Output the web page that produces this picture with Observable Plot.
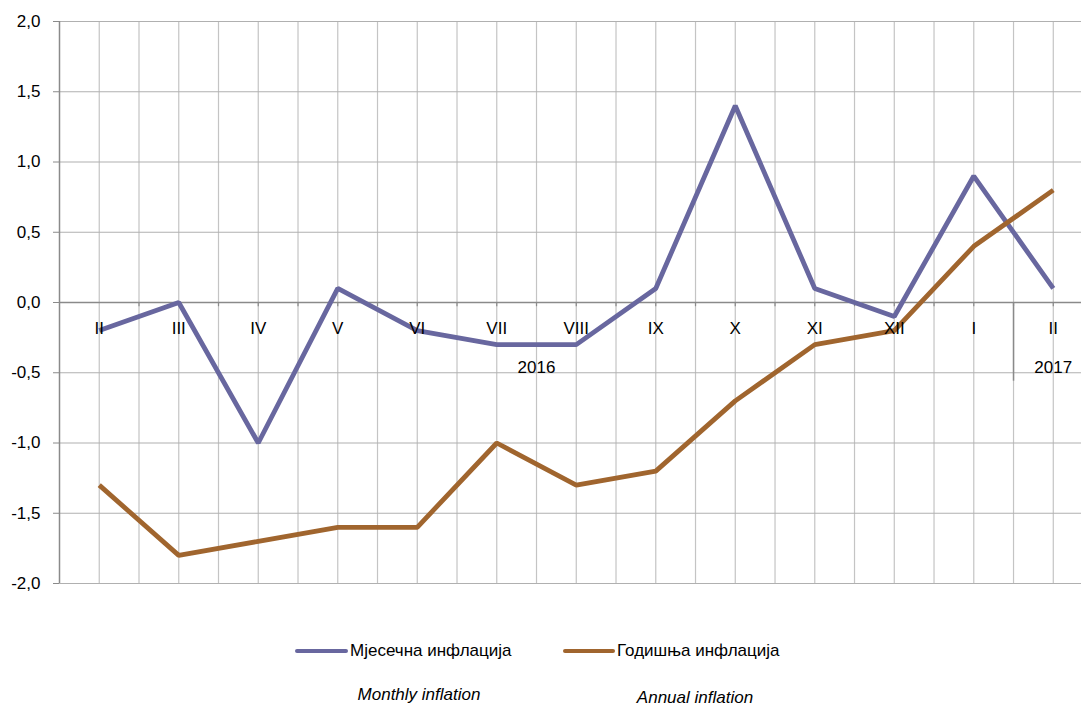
<!DOCTYPE html>
<html>
<head>
<meta charset="utf-8">
<script src="https://cdn.jsdelivr.net/npm/d3@7"></script>
<script src="https://cdn.jsdelivr.net/npm/@observablehq/plot@0.6"></script>
<style>
  body { margin: 0; background: #fff; font-family: "Liberation Sans", Arial, sans-serif; }
  #wrap { position: relative; width: 1081px; height: 706px; overflow: hidden; }
  .sw { position: absolute; height: 4px; border-radius: 2px; }
  .lt { position: absolute; font-size: 17px; color: #000; white-space: nowrap; line-height: 20px; }
  .en { position: absolute; font-size: 17px; font-style: italic; color: #000; white-space: nowrap; line-height: 20px; }
</style>
</head>
<body>
<div id="wrap">
  <div id="chart"></div>
</div>
<script>
const months = ["II","III","IV","V","VI","VII","VIII","IX","X","XI","XII","I","II"];
const monthly = [-0.2, 0.0, -1.0, 0.1, -0.2, -0.3, -0.3, 0.1, 1.4, 0.1, -0.1, 0.9, 0.1];
const annual = [-1.3, -1.8, -1.7, -1.6, -1.6, -1.0, -1.3, -1.2, -0.7, -0.3, -0.2, 0.4, 0.8];
const years = ["2016", "2017"];
const yearPos = [5.5, 12];
const yTicks = [-2, -1.5, -1, -0.5, 0, 0.5, 1, 1.5, 2];
const seriesNames = ["Мјесечна инфлација", "Годишња инфлација"];
const seriesNamesEn = ["Monthly inflation", "Annual inflation"];
const colors = ["#68679F", "#A0652E"];

const idx = months.map((_, i) => i);
const mData = idx.map(i => ({i, v: monthly[i]}));
const aData = idx.map(i => ({i, v: annual[i]}));
const grid = d3.range(0, 12.01, 0.5);
const yearData = years.map((y, k) => ({x: yearPos[k], label: y}));
const monthData = months.map((m, i) => ({x: i, label: m}));

const chart = Plot.plot({
  width: 1081,
  height: 600,
  marginLeft: 59,
  marginRight: 0,
  marginTop: 21,
  marginBottom: 17,
  x: {type: "linear", domain: [-0.5, 12.355], axis: null},
  y: {domain: [-2, 2], axis: null},
  style: {fontFamily: "'Liberation Sans', Arial, sans-serif", fontSize: "17px", color: "#000", background: "#fff"},
  marks: [
    Plot.ruleX(grid, {stroke: "#c4c4c4", strokeWidth: 1.2}),
    Plot.ruleY(yTicks, {x1: -0.5, x2: 12.355, stroke: "#b0b0b0", strokeWidth: 1.2}),
    Plot.axisY({ticks: yTicks, tickSize: 6, tickPadding: 13, stroke: "#8a8a8a", fill: "#000", label: null,
      tickFormat: d => d.toFixed(1).replace(".", ","), fontSize: 17}),
    Plot.ruleX([-0.5], {stroke: "#8a8a8a", strokeWidth: 1.5}),
    Plot.ruleY([0], {x1: -0.5, x2: 12.355, stroke: "#8a8a8a", strokeWidth: 1.5}),
    Plot.ruleX(grid.slice(1), {y1: 0, y2: -0.03, stroke: "#8a8a8a", strokeWidth: 1.2}),
    Plot.ruleX([11.5], {y1: 0, y2: -0.56, stroke: "#8a8a8a", strokeWidth: 1.5}),
    Plot.line(mData, {x: "i", y: "v", stroke: colors[0], strokeWidth: 4.8, strokeLinejoin: "miter", strokeLinecap: "butt"}),
    Plot.line(aData, {x: "i", y: "v", stroke: colors[1], strokeWidth: 4.8, strokeLinejoin: "miter", strokeLinecap: "butt"}),
    Plot.text(monthData, {x: "x", y: () => -0.185, text: "label", fill: "#000", fontSize: 17}),
    Plot.text(yearData, {x: "x", y: () => -0.46, text: "label", fill: "#000", fontSize: 17})
  ]
});
document.getElementById("chart").appendChild(chart);

// legend below the svg
const wrap = document.getElementById("wrap");
const legendPos = [{sw: 295, swW: 53, tx: 350, en: 419}, {sw: 563, swW: 52, tx: 617, en: 695}];
const enY = [685, 688];
seriesNames.forEach((name, k) => {
  const p = legendPos[k];
  const sw = document.createElement("div");
  sw.className = "sw";
  sw.style.left = p.sw + "px"; sw.style.top = "649px"; sw.style.width = p.swW + "px";
  sw.style.background = colors[k];
  wrap.appendChild(sw);
  const t = document.createElement("div");
  t.className = "lt";
  t.style.left = p.tx + "px"; t.style.top = "641px";
  t.textContent = name;
  wrap.appendChild(t);
  const e = document.createElement("div");
  e.className = "en";
  e.style.left = p.en + "px"; e.style.top = enY[k] + "px";
  e.style.transform = "translateX(-50%)";
  e.textContent = seriesNamesEn[k];
  wrap.appendChild(e);
});
</script>
</body>
</html>
